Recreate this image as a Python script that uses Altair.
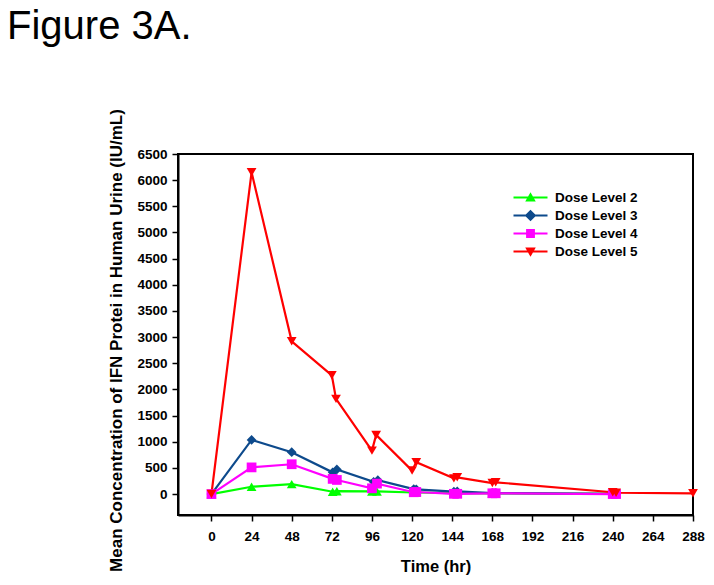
import altair as alt
import pandas as pd

# ---- data ----
series_names = ["Dose Level 2", "Dose Level 3", "Dose Level 4", "Dose Level 5"]
series_colors = ["#00FF00", "#0D4A8C", "#FF00FF", "#FF0000"]
series_shapes = ["triangle-up", "diamond", "square", "triangle-down"]

dose2_time = [0, 24, 48, 72.5, 75, 96, 99, 121, 122.5, 145, 147, 168, 170, 240, 242]
dose2_conc = [0, 140, 190, 45, 55, 50, 50, 30, 30, 20, 20, 15, 15, 5, 5]

dose3_time = [0, 24, 48, 72.5, 75, 97, 99.5, 121, 122.5, 145, 147, 168, 170, 240, 242]
dose3_conc = [0, 1035, 800, 415, 470, 235, 265, 95, 90, 45, 50, 20, 20, 5, 5]

dose4_time = [0, 24, 48, 72.5, 75, 96, 99, 121, 122.5, 145, 147, 168, 170, 240, 242]
dose4_conc = [0, 510, 570, 290, 270, 110, 200, 35, 40, 5, 5, 15, 15, 0, 0]

dose5_time = [0, 24, 48, 72, 74.5, 96, 98.5, 120, 122.5, 145, 147, 168, 170, 240, 242, 288]
dose5_conc = [0, 6150, 2920, 2270, 1820, 830, 1130, 450, 610, 300, 320, 210, 225, 35, 25, 15]

x_ticks = list(range(0, 289, 24))
y_ticks = list(range(0, 6501, 500))

rows = []
for name, ts, cs in [
    (series_names[0], dose2_time, dose2_conc),
    (series_names[1], dose3_time, dose3_conc),
    (series_names[2], dose4_time, dose4_conc),
    (series_names[3], dose5_time, dose5_conc),
]:
    for i, (t, c) in enumerate(zip(ts, cs)):
        rows.append({"series": name, "time": t, "conc": c, "idx": i})
df = pd.DataFrame(rows)

# legend symbols: short line with the marker in the middle (custom SVG paths)
bar = "M-2,-0.13H2V0.13H-2Z "
legend_paths = [
    bar + "M0,-0.62L0.62,0.46L-0.62,0.46Z",
    bar + "M0,-0.68L0.68,0L0,0.68L-0.68,0Z",
    bar + "M-0.52,-0.52H0.52V0.52H-0.52Z",
    bar + "M-0.62,-0.46L0.62,-0.46L0,0.62Z",
]

FONT = "Liberation Sans"

x_axis = alt.Axis(
    values=x_ticks, title="Time (hr)", grid=False, format="d", labelOverlap=False,
    labelFont=FONT, labelFontSize=13.5, labelFontWeight="bold", labelColor="black",
    titleFont=FONT, titleFontSize=16.5, titleFontWeight="bold", titleColor="black",
    domainColor="black", domainWidth=2, tickColor="black", tickWidth=1.5, tickSize=6,
    labelPadding=8, titlePadding=16, labelFlush=False,
)
y_axis = alt.Axis(
    values=y_ticks, title="Mean Concentration of IFN Protei in Human Urine (IU/mL)",
    grid=False, format="d", labelOverlap=False, tickCount=14,
    labelFont=FONT, labelFontSize=13.5, labelFontWeight="bold", labelColor="black",
    titleFont=FONT, titleFontSize=17, titleFontWeight="bold", titleColor="black",
    domainColor="black", domainWidth=2, tickColor="black", tickWidth=1.5, tickSize=6,
    labelPadding=5, titlePadding=11, labelFlush=False, titleY=186,
)
x_scale = alt.Scale(domain=[-20, 288], nice=False, zero=False)
y_scale = alt.Scale(domain=[-400, 6500], nice=False, zero=False)


def xe():
    return alt.X("time:Q", scale=x_scale, axis=x_axis)


def ye():
    return alt.Y("conc:Q", scale=y_scale, axis=y_axis)


color_scale = alt.Scale(domain=series_names, range=series_colors)

lines = alt.Chart(df).mark_line(strokeWidth=2.2).encode(
    x=xe(), y=ye(),
    color=alt.Color("series:N", scale=color_scale, legend=None),
    order="idx:Q",
)

points = alt.Chart(df).mark_point(filled=True, size=95, opacity=1).encode(
    x=xe(), y=ye(),
    color=alt.Color("series:N", scale=color_scale, legend=None),
    shape=alt.Shape("series:N", scale=alt.Scale(domain=series_names, range=series_shapes), legend=None),
)

legend_props = dict(
    title=None, orient="none", legendX=344, legendY=35, padding=0,
    labelFont=FONT, labelFontSize=13.5, labelFontWeight="bold", labelColor="black",
    labelOffset=16, rowPadding=3, symbolStrokeWidth=0, symbolSize=289,
    symbolOpacity=1,
)

legend_df = pd.DataFrame({"series": series_names, "time": [-1000] * 4, "conc": [0] * 4})
legend_layer = alt.Chart(legend_df).mark_point(filled=True, clip=True, size=289).encode(
    x=xe(), y=ye(),
    color=alt.Color("series:N", scale=color_scale, legend=alt.Legend(**legend_props)),
    shape=alt.Shape(
        "series:N", scale=alt.Scale(domain=series_names, range=legend_paths),
        legend=alt.Legend(**legend_props),
    ),
)

title_df = pd.DataFrame({"label": ["Figure 3A."]})
title_layer = alt.Chart(title_df).mark_text(
    font=FONT, fontSize=40, fontWeight="normal", color="black",
    align="left", baseline="alphabetic",
).encode(x=alt.value(-171), y=alt.value(-115), text="label:N")

chart = (
    alt.layer(lines, points, legend_layer, title_layer)
    .resolve_scale(color="independent", shape="independent")
    .properties(
        width=515, height=361,
        background="white",
        autosize=alt.AutoSizeParams(type="none"),
        padding={"left": 170, "top": 146, "right": 12, "bottom": 62},
    )
    .configure_view(stroke="black", strokeWidth=2)
)

chart.save("out.html", embed_options={"renderer": "svg", "actions": False})
